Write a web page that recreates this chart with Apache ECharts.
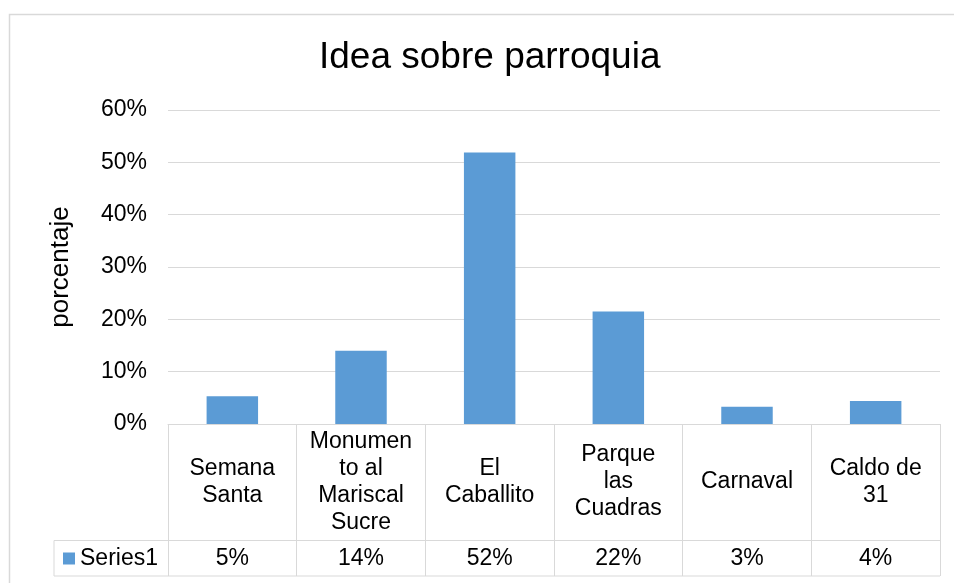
<!DOCTYPE html>
<html>
<head>
<meta charset="utf-8">
<script src="https://cdn.jsdelivr.net/npm/echarts@6/dist/echarts.min.js"></script>
<style>
  html, body { margin: 0; padding: 0; background: #fff; }
  #main { width: 954px; height: 583px; }
</style>
</head>
<body>
<div id="main"></div>
<script>
// datos
var categorias = ["Semana\nSanta", "Monumen\nto al\nMariscal\nSucre", "El\nCaballito", "Parque\nlas\nCuadras", "Carnaval", "Caldo de\n31"];
var valores = [5.3, 14.0, 51.9, 21.5, 3.3, 4.4];
var nombreSerie = "Series1";
var ticksY = [0, 10, 20, 30, 40, 50, 60];

var etiquetasTabla = valores.map(function (v) { return Math.round(v) + "%"; });

var fuente = "Liberation Sans";
var gris = "#d9d9d9";
var gridL = 168, gridR = 940, gridT = 110, gridB = 424;
var filaSep = 540.5, tablaFin = 576, celdaIzq = 54;

var myChart = echarts.init(document.getElementById("main"));
myChart.setOption({
  animation: false,
  backgroundColor: "#fff",
  textStyle: { fontFamily: fuente, color: "#000" },
  title: {
    text: "Idea sobre parroquia",
    left: 319,
    top: 39,
    padding: 0,
    textStyle: { fontFamily: fuente, fontSize: 37, fontWeight: "normal", color: "#000" }
  },
  legend: {
    data: [nombreSerie],
    left: 63,
    top: 547,
    padding: 0,
    icon: "rect",
    itemWidth: 12,
    itemHeight: 12,
    itemGap: 5,
    textStyle: { fontFamily: fuente, fontSize: 23, color: "#000", padding: [0, 0, 0, 0] }
  },
  grid: {
    left: gridL,
    right: 954 - gridR,
    top: gridT,
    bottom: 583 - gridB
  },
  xAxis: [
    {
      type: "category",
      data: categorias,
      axisLine: { show: true, lineStyle: { color: gris, width: 1 } },
      axisTick: { show: true, length: tablaFin - gridB, lineStyle: { color: gris, width: 1 } },
      axisLabel: {
        interval: 0,
        margin: 58,
        verticalAlign: "middle",
        lineHeight: 27,
        fontSize: 23,
        color: "#000",
        fontFamily: fuente
      }
    },
    {
      type: "category",
      data: etiquetasTabla,
      position: "bottom",
      axisLine: { show: false },
      axisTick: { show: false },
      axisLabel: {
        interval: 0,
        margin: 135,
        verticalAlign: "middle",
        fontSize: 23,
        color: "#000",
        fontFamily: fuente
      }
    }
  ],
  yAxis: {
    type: "value",
    min: 0,
    max: 60,
    interval: 10,
    name: "porcentaje",
    nameLocation: "middle",
    nameGap: 94,
    nameTextStyle: { fontFamily: fuente, fontSize: 26, color: "#000" },
    axisLine: { show: false },
    axisTick: { show: false },
    axisLabel: {
      formatter: "{value}%",
      margin: 21,
      fontSize: 23,
      color: "#000",
      fontFamily: fuente
    },
    splitLine: { lineStyle: { color: gris, width: 1 } }
  },
  series: [
    {
      name: nombreSerie,
      type: "bar",
      xAxisIndex: 0,
      data: valores,
      barWidth: "40%",
      itemStyle: { color: "#5b9bd5" }
    }
  ],
  graphic: [
    // borde exterior
    { type: "rect", shape: { x: 9.5, y: 14.5, width: 980, height: 620 }, style: { fill: "none", stroke: gris, lineWidth: 1.5 }, silent: true },
    // lineas de la tabla
    { type: "line", shape: { x1: celdaIzq, y1: filaSep, x2: gridR, y2: filaSep }, style: { stroke: gris, lineWidth: 1 } },
    { type: "line", shape: { x1: celdaIzq, y1: tablaFin, x2: gridR, y2: tablaFin }, style: { stroke: gris, lineWidth: 1 } },
    { type: "line", shape: { x1: celdaIzq, y1: filaSep, x2: celdaIzq, y2: tablaFin }, style: { stroke: gris, lineWidth: 1 } }
  ]
});
</script>
</body>
</html>
